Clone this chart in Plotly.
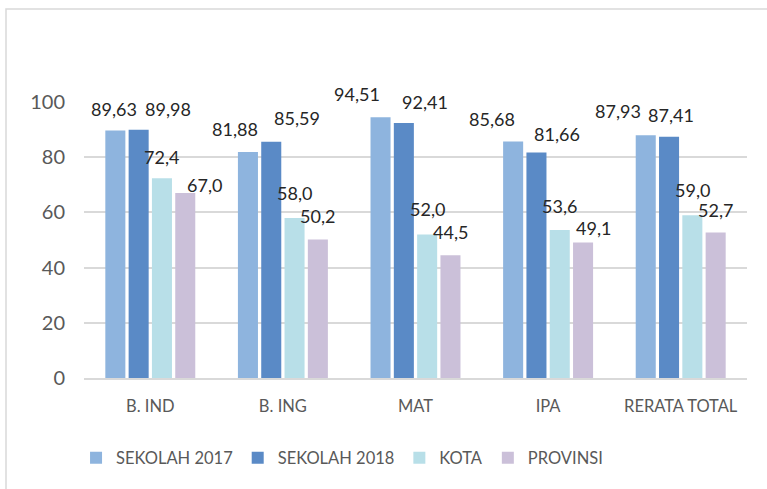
import plotly.graph_objects as go

categories = ["B. IND", "B. ING", "MAT", "IPA", "RERATA TOTAL"]
series_names = ["SEKOLAH 2017", "SEKOLAH 2018", "KOTA", "PROVINSI"]
sekolah_2017 = [89.63, 81.88, 94.51, 85.68, 87.93]
sekolah_2018 = [89.98, 85.59, 92.41, 81.66, 87.41]
kota = [72.4, 58.0, 52.0, 53.6, 59.0]
provinsi = [67.0, 50.2, 44.5, 49.1, 52.7]
decimals = [2, 2, 1, 1]
y_ticks = [0, 20, 40, 60, 80, 100]

series_values = [sekolah_2017, sekolah_2018, kota, provinsi]
colors = ["#8EB4DE", "#5A8AC6", "#B8DFE8", "#CBC0D9"]

# label nudges (px) applied to the data labels (dx right, dy up), per series per category
label_dx = [[-1, -13, -24, -21, -28],
            [29, 26, 21, 21, 2],
            [0, 0, 0, 0, 0],
            [19, 0, 0, 10, 0]]
label_dy = [[0, 1, 1, 1, 2],
            [-1, 2, -1, -3, 0],
            [-1, 3, 3, 2, 3],
            [-14, 1, 1, -8, 1]]

W, H = 767, 489
ML, MR, MT, MB = 84, 20, 102, 111
BARGAP, GROUPGAP = 0.297, 0.14
FONT = "Lato"

fig = go.Figure()
for name, vals, col in zip(series_names, series_values, colors):
    fig.add_trace(go.Bar(name=name, x=categories, y=vals, marker=dict(color=col, line=dict(width=0))))

plot_w = W - ML - MR
plot_h = H - MT - MB
cat_px = plot_w / len(categories)
slot = cat_px * (1 - BARGAP) / len(series_values)

annotations = []
for j, vals in enumerate(series_values):
    for i, v in enumerate(vals):
        txt = f"{v:.{decimals[j]}f}".replace(".", ",")
        annotations.append(dict(
            x=categories[i], y=v, xref="x", yref="y", text=txt, showarrow=False,
            xanchor="center", yanchor="middle",
            xshift=(j - 1.5) * slot + label_dx[j][i], yshift=22 + label_dy[j][i],
            font=dict(family=FONT, size=18, color="#262626")))

fig.update_layout(
    width=W, height=H,
    margin=dict(l=ML, r=MR, t=MT, b=MB, autoexpand=False),
    paper_bgcolor="white", plot_bgcolor="white",
    barmode="group", bargap=BARGAP, bargroupgap=GROUPGAP,
    font=dict(family=FONT, color="#595959"),
    annotations=annotations,
    legend=dict(orientation="h", x=-0.012, xanchor="left", y=-0.29, yanchor="middle",
                font=dict(family=FONT, size=16.5, color="#595959"), traceorder="normal"),
    shapes=[dict(type="rect", xref="paper", yref="paper",
                 x0=(6 - ML) / plot_w, x1=(W + 10 - ML) / plot_w,
                 y0=-(H + 10 - (H - MB)) / plot_h, y1=((H - MB) - 9) / plot_h,
                 line=dict(color="#d9d9d9", width=1.5), layer="below")],
)
fig.update_yaxes(range=[0, 100], tickvals=y_ticks, showgrid=True, gridcolor="#d9d9d9", gridwidth=1.5,
                 zeroline=False, showline=False, ticklabelstandoff=18, automargin=False,
                 tickfont=dict(family=FONT, size=20, color="#595959"))
fig.update_xaxes(showline=True, linecolor="#d9d9d9", linewidth=1.5, ticks="", ticklabelstandoff=12,
                 automargin=False, tickfont=dict(family=FONT, size=16.5, color="#595959"))

fig.write_html("out.html", config={"displayModeBar": False},
               post_script="document.body.style.margin='0';")
